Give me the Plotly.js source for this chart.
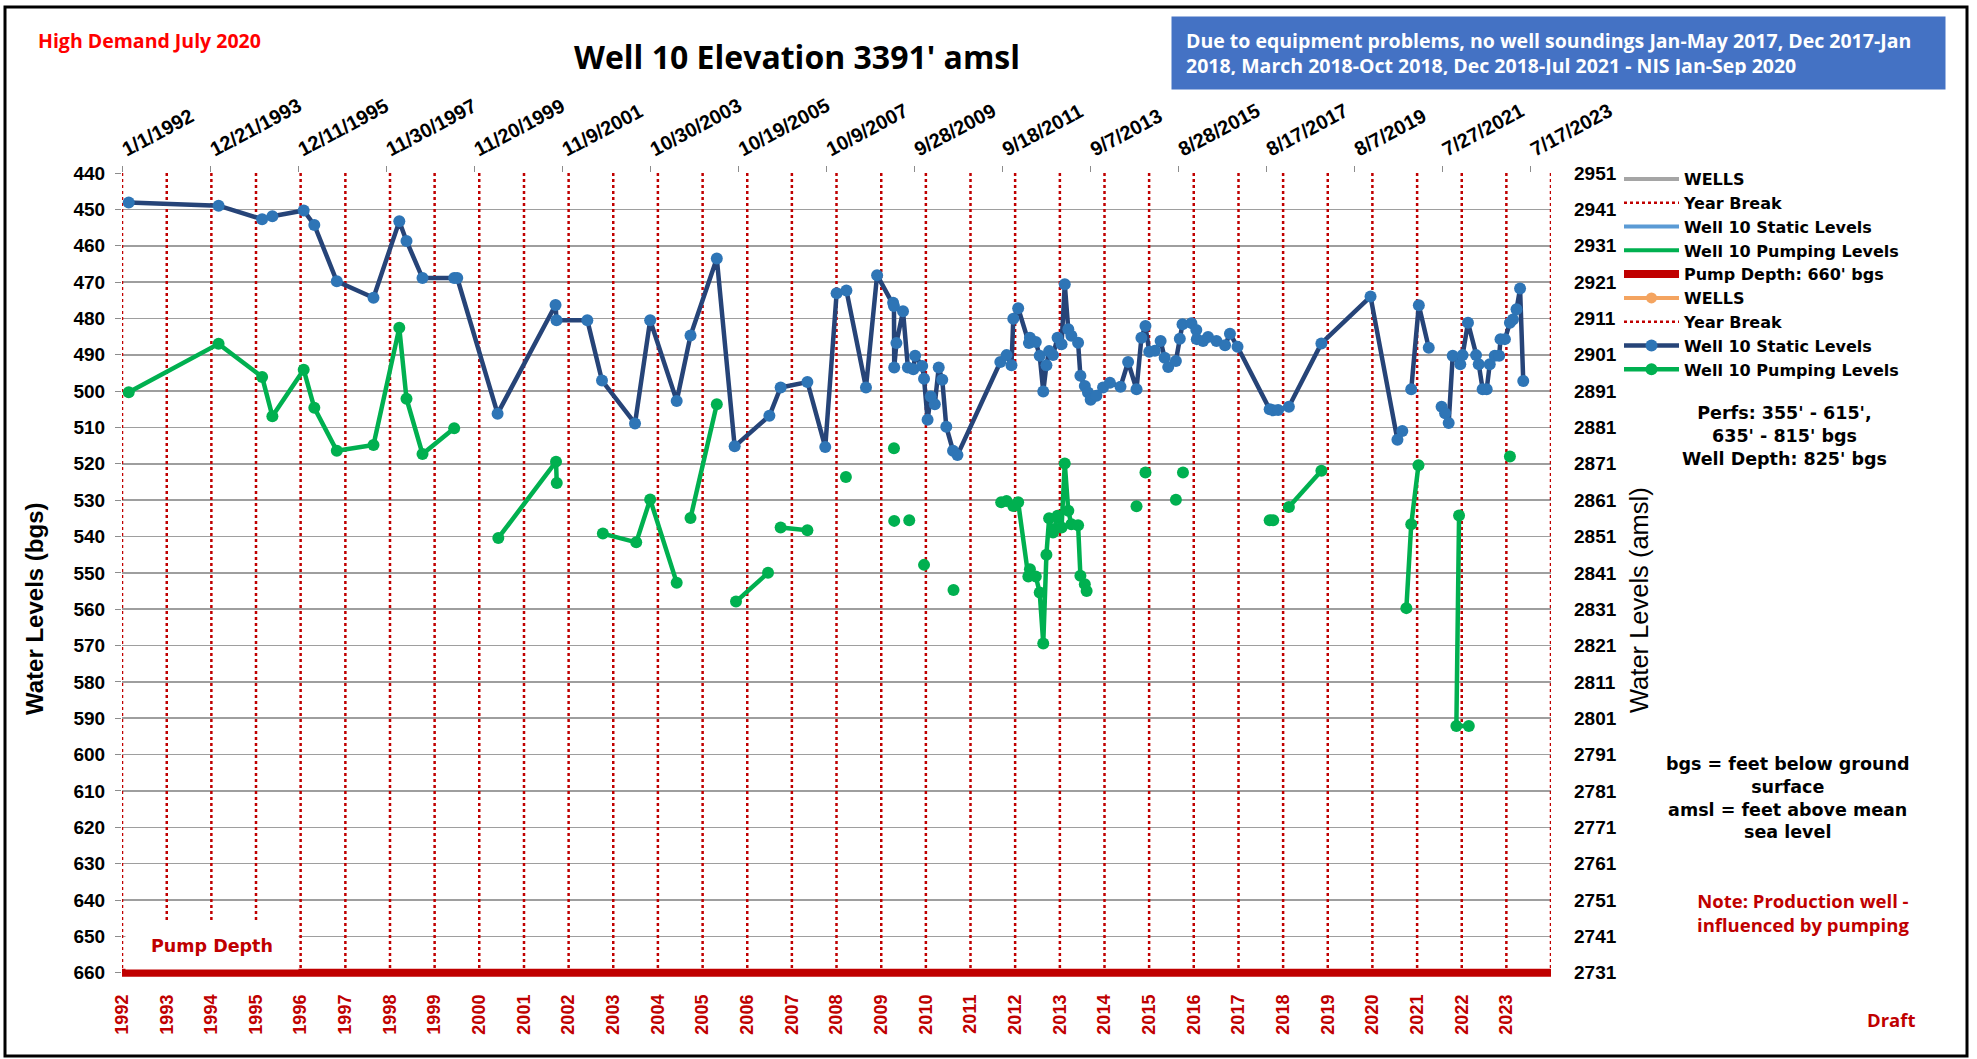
<!DOCTYPE html>
<html><head><meta charset="utf-8">
<script src="https://cdn.plot.ly/plotly-3.0.1.min.js"></script>
<style>html,body{margin:0;padding:0;background:#fff}#chart{width:1977px;height:1059px}</style>
</head><body><div id="chart"></div>
<script>
// ---------------- DATA ----------------
const wellElevation = 3391;      // ft amsl
const pumpDepth = 660;           // ft bgs
const depthTop = 440, depthBottom = 660;

const yearBreakYears = [1992,1993,1994,1995,1996,1997,1998,1999,2000,2001,2002,2003,2004,2005,2006,2007,2008,2009,2010,2011,2012,2013,2014,2015,2016,2017,2018,2019,2020,2021,2022,2023,2024];
const bottomYearLabels = ['1992','1993','1994','1995','1996','1997','1998','1999','2000','2001','2002','2003','2004','2005','2006','2007','2008','2009','2010','2011','2012','2013','2014','2015','2016','2017','2018','2019','2020','2021','2022','2023'];
const topTickDates = ['1992-01-01','1993-12-21','1995-12-11','1997-11-30','1999-11-20','2001-11-09','2003-10-30','2005-10-19','2007-10-09','2009-09-28','2011-09-18','2013-09-07','2015-08-28','2017-08-17','2019-08-07','2021-07-27','2023-07-17'];
const topTickText = ['1/1/1992','12/21/1993','12/11/1995','11/30/1997','11/20/1999','11/9/2001','10/30/2003','10/19/2005','10/9/2007','9/28/2009','9/18/2011','9/7/2013','8/28/2015','8/17/2017','8/7/2019','7/27/2021','7/17/2023'];

const staticDates = ['1992-02-25','1994-03-01','1995-02-20','1995-05-15','1996-01-26','1996-04-22','1996-10-23','1997-08-19','1998-03-18','1998-05-16','1998-09-24','1999-06-10','1999-07-05','2000-05-30','2001-09-16','2001-09-24','2002-06-03','2002-10-01','2003-06-28','2003-10-30','2004-06-03','2004-09-24','2005-04-27','2005-09-20','2006-07-01','2006-10-01','2007-05-08','2007-10-01','2008-01-02','2008-03-22','2008-08-29','2008-11-28','2009-04-08','2009-04-15','2009-04-17','2009-05-05','2009-06-28','2009-08-07','2009-09-20','2009-10-05','2009-12-02','2009-12-17','2010-01-15','2010-02-10','2010-03-15','2010-04-16','2010-05-15','2010-06-17','2010-08-11','2010-09-16','2011-09-02','2011-10-23','2011-12-02','2011-12-17','2012-01-26','2012-04-23','2012-05-01','2012-06-18','2012-07-20','2012-08-18','2012-09-13','2012-10-05','2012-11-06','2012-12-13','2013-01-15','2013-02-10','2013-03-11','2013-04-05','2013-05-30','2013-06-18','2013-07-24','2013-08-19','2013-09-10','2013-10-27','2013-12-20','2014-02-14','2014-05-12','2014-07-13','2014-09-20','2014-10-30','2014-12-02','2015-01-02','2015-02-17','2015-04-05','2015-05-08','2015-06-06','2015-08-08','2015-09-09','2015-10-01','2015-12-13','2016-01-22','2016-01-26','2016-03-17','2016-04-27','2016-07-05','2016-09-13','2016-10-23','2016-12-24','2017-09-13','2017-10-12','2017-11-21','2018-02-17','2018-11-10','2019-12-17','2020-07-24','2020-09-02',null,'2020-11-14','2021-01-15','2021-04-06',null,'2021-07-20','2021-08-18','2021-09-16','2021-10-19','2021-12-20','2022-01-08','2022-02-21','2022-04-28','2022-05-20','2022-06-21','2022-07-24','2022-08-18','2022-09-28','2022-11-03','2022-11-14','2022-12-20','2023-01-30','2023-02-24','2023-03-25','2023-04-23','2023-05-19'];
const staticLevels = [448.1,449.0,452.7,451.9,450.3,454.3,469.8,474.3,453.3,458.7,468.9,468.9,468.9,506.2,476.3,480.5,480.5,497.1,508.9,480.5,502.7,484.7,463.5,515.2,506.8,499.0,497.5,515.4,473.1,472.3,499.0,468.1,475.7,476.6,493.5,486.8,478.0,493.5,494.0,490.3,493.1,496.6,507.9,501.5,503.6,493.5,496.9,509.8,516.4,517.6,492.0,490.1,492.9,480.1,477.2,486.8,485.3,486.5,490.3,500.1,492.9,489.0,490.1,485.3,487.1,470.6,483.0,484.8,486.7,495.8,498.6,500.4,502.4,501.3,499.0,497.7,498.8,492.0,499.5,485.3,482.1,489.2,488.9,486.2,490.8,493.4,491.7,485.6,481.6,481.3,483.2,485.7,486.2,485.1,486.2,487.4,484.2,487.8,505.0,505.3,505.2,504.3,486.9,474.0,513.4,511.0,null,499.5,476.4,488.1,null,504.3,506.1,508.8,490.3,492.6,490.1,481.2,490.1,492.6,499.5,499.5,492.6,490.3,490.3,485.7,485.7,481.2,480.3,477.5,471.8,497.2];

const pumpingDates = ['1992-02-25','1994-03-01','1995-02-20','1995-05-15','1996-01-26','1996-04-22','1996-10-23','1997-08-19','1998-03-18','1998-05-16','1998-09-24','1999-06-10',null,'2000-06-05','2001-09-20','2001-09-26',null,'2002-10-08','2003-07-08','2003-10-30','2004-06-03',null,'2004-09-24','2005-04-27',null,'2005-10-01','2006-06-20',null,'2006-10-01','2007-05-08',null,'2008-03-18',null,'2009-04-15',null,'2009-04-17',null,'2009-08-18',null,'2009-12-17',null,'2010-08-15',null,'2011-09-09','2011-10-23','2011-12-17','2012-01-26','2012-04-18','2012-05-01','2012-06-18','2012-07-20','2012-08-18','2012-09-13','2012-10-05','2012-11-06','2012-12-13','2013-01-15','2013-02-10','2013-03-11','2013-04-05','2013-05-30','2013-06-18','2013-07-24','2013-08-08',null,'2014-09-20',null,'2014-12-02',null,'2015-08-08',null,'2015-10-05',null,'2017-09-13','2017-10-12',null,'2018-02-17','2018-11-10',null,'2020-10-05','2020-11-14','2021-01-12',null,'2021-12-10','2021-11-18','2022-02-28',null,'2023-01-30'];
const pumpingLevels = [500.3,487.0,496.1,506.9,494.1,504.6,516.4,514.8,482.6,502.1,517.3,510.2,null,540.4,519.4,525.3,null,539.2,541.6,529.8,552.7,null,534.9,503.6,null,557.9,550.0,null,537.5,538.3,null,523.6,null,515.7,null,535.7,null,535.5,null,547.8,null,554.7,null,530.6,530.2,531.6,530.6,551.0,549.0,551.0,555.4,569.4,545.0,535.0,538.9,534.3,537.5,519.9,532.9,536.6,536.9,550.8,553.1,555.0,null,531.7,null,522.4,null,529.9,null,522.4,null,535.5,535.5,null,531.9,521.9,null,559.7,536.6,520.4,null,534.2,592.1,592.1,null,518.0];

// ---------------- LAYOUT HELPERS ----------------
const W = 1977, H = 1059, ML = 122, MR = 426, MT = 173, MB = 79;
const PW = W - ML - MR, PH = H - MT - MB;
const px = x => (x - ML) / PW;
const py = y => 1 - (y - MT) / PH;
const ARIAL = 'Liberation Sans, Arial, sans-serif';
const CALIBRI = 'Open Sans, Carlito, sans-serif';
const HEAVY = 'DejaVu Sans, Arial Black, sans-serif';
const DARKRED = '#C00000';

const yearX = [], yearY = [];
yearBreakYears.forEach(y => { yearX.push(y + '-01-01', y + '-01-01', null); yearY.push(depthTop, depthBottom, null); });
const xStart = yearBreakYears[0] + '-01-01';
const xEnd = yearBreakYears[yearBreakYears.length - 1] + '-01-01';
const bottomTickVals = bottomYearLabels.map(y => y + '-01-01');

const traces = [
  {name: 'WELLS', x: [null], y: [null], xaxis: 'x2', yaxis: 'y2', mode: 'lines', line: {color: '#A5A5A5', width: 4}, legendrank: 1},
  {name: 'Year Break', x: [null], y: [null], mode: 'lines', line: {color: DARKRED, width: 2.5, dash: 'dot'}, legendrank: 2},
  {name: 'Well 10 Static Levels', x: [null], y: [null], mode: 'lines', line: {color: '#5B9BD5', width: 4}, legendrank: 3},
  {name: 'Well 10 Pumping Levels', x: [null], y: [null], mode: 'lines', line: {color: '#00B050', width: 4}, legendrank: 4},
  {name: 'Year Break', x: yearX, y: yearY, mode: 'lines', line: {color: DARKRED, width: 2.5, dash: 'dot'}, legendrank: 7},
  {name: "Pump Depth: 660' bgs", x: [xStart, xEnd], y: [pumpDepth, pumpDepth], mode: 'lines', line: {color: DARKRED, width: 8}, legendrank: 5},
  {name: 'WELLS', x: [null], y: [null], mode: 'lines+markers', line: {color: '#F4A460', width: 4}, marker: {color: '#F4A460', size: 11}, legendrank: 6},
  {name: 'Well 10 Static Levels', x: staticDates, y: staticLevels, mode: 'lines+markers', connectgaps: false,
   line: {color: '#264478', width: 4.5}, marker: {color: '#2E75B6', size: 12}, cliponaxis: false, legendrank: 8},
  {name: 'Well 10 Pumping Levels', x: pumpingDates, y: pumpingLevels, mode: 'lines+markers', connectgaps: false,
   line: {color: '#00B050', width: 4.5}, marker: {color: '#00B050', size: 12}, cliponaxis: false, legendrank: 9}
];

const tickFont = {family: ARIAL, size: 19, color: '#000', weight: 'bold'};

const layout = {
  width: W, height: H,
  margin: {l: ML, r: MR, t: MT, b: MB, pad: 0},
  paper_bgcolor: '#fff', plot_bgcolor: '#fff',
  showlegend: true, hovermode: false,
  font: {family: ARIAL, color: '#000'},
  xaxis: {type: 'date', range: [xStart, xEnd], tickmode: 'array', tickvals: bottomTickVals, ticktext: bottomYearLabels,
          tickangle: -90, ticks: '', showgrid: false, zeroline: false, showline: false, ticklabelstandoff: 10,
          tickfont: {family: ARIAL, size: 18, color: DARKRED, weight: 'bold'}},
  xaxis2: {type: 'date', overlaying: 'x', side: 'top', anchor: 'y', range: [xStart, xEnd], tickmode: 'array',
           tickvals: topTickDates, ticktext: topTickText, tickangle: -28, ticks: 'outside', ticklen: 6,
           tickcolor: '#8C8C8C', showgrid: false, zeroline: false, showline: false, ticklabelstandoff: 0,
           tickfont: {family: ARIAL, size: 20, color: '#000', weight: 'bold'}},
  yaxis: {range: [depthBottom + 2, depthTop], tick0: depthTop, dtick: 10, ticks: 'outside', ticklen: 6, tickcolor: '#8C8C8C',
          gridcolor: '#9E9E9E', gridwidth: 1.6, zeroline: false, showline: false, ticklabelstandoff: 6, tickfont: tickFont},
  yaxis2: {overlaying: 'y', side: 'right', anchor: 'x', range: [wellElevation - depthBottom - 2, wellElevation - depthTop],
           tick0: wellElevation - depthBottom, dtick: 10, ticks: '', showgrid: false, zeroline: false, showline: false,
           ticklabelstandoff: 22, tickfont: tickFont},
  legend: {x: px(1619), xanchor: 'left', y: py(162), yanchor: 'top', traceorder: 'normal', itemwidth: 55, tracegroupgap: 0,
           bgcolor: 'rgba(0,0,0,0)', font: {family: 'DejaVu Sans, Liberation Sans, sans-serif', size: 16, color: '#000', weight: 'bold'}},
  shapes: [
    {type: 'rect', xref: 'paper', yref: 'paper', x0: px(5), x1: px(1967), y0: py(1056), y1: py(7), line: {color: '#000', width: 3}, layer: 'above'}
  ],
  annotations: [
    {xref: 'paper', yref: 'paper', x: px(36), y: py(40), xanchor: 'left', yanchor: 'middle', showarrow: false,
     text: 'High Demand July 2020', font: {family: CALIBRI, size: 19.5, color: '#FF0000', weight: 'bold'}},
    {xref: 'paper', yref: 'paper', x: px(797), y: py(57), xanchor: 'center', yanchor: 'middle', showarrow: false,
     text: "Well 10 Elevation 3391' amsl", font: {family: CALIBRI, size: 32, color: '#000', weight: 'bold'}},
    {xref: 'paper', yref: 'paper', x: px(1171), y: py(16), xanchor: 'left', yanchor: 'top', showarrow: false,
     width: 745, height: 44, borderpad: 14, bgcolor: '#4472C4', align: 'left', valign: 'middle',
     text: 'Due to equipment problems, no well soundings Jan-May 2017, Dec 2017-Jan<br>2018, March 2018-Oct 2018, Dec 2018-Jul 2021 - NIS Jan-Sep 2020',
     font: {family: CALIBRI, size: 19.5, color: '#fff', weight: 'bold'}},
    {xref: 'paper', yref: 'paper', x: px(34), y: py(609), xanchor: 'center', yanchor: 'middle', textangle: -90, showarrow: false,
     text: 'Water Levels (bgs)', font: {family: ARIAL, size: 24, color: '#000', weight: 'bold'}},
    {xref: 'paper', yref: 'paper', x: px(1639), y: py(600), xanchor: 'center', yanchor: 'middle', textangle: -90, showarrow: false,
     text: 'Water Levels (amsl)', font: {family: ARIAL, size: 25.5, color: '#000'}},
    {xref: 'paper', yref: 'paper', x: px(1784), y: py(436), xanchor: 'center', yanchor: 'middle', showarrow: false, align: 'center',
     text: "Perfs: 355' - 615',<br>635' - 815' bgs<br>Well Depth: 825' bgs", font: {family: HEAVY, size: 17.5, color: '#000', weight: 'bold'}},
    {xref: 'paper', yref: 'paper', x: px(1787), y: py(798), xanchor: 'center', yanchor: 'middle', showarrow: false, align: 'center',
     text: 'bgs = feet below ground<br>surface<br>amsl = feet above mean<br>sea level', font: {family: HEAVY, size: 17.5, color: '#000', weight: 'bold'}},
    {xref: 'paper', yref: 'paper', x: px(1803), y: py(912), xanchor: 'center', yanchor: 'middle', showarrow: false, align: 'center',
     text: 'Note: Production well -<br>influenced by pumping', font: {family: CALIBRI, size: 18.5, color: DARKRED, weight: 'bold'}},
    {xref: 'paper', yref: 'paper', x: px(1891), y: py(1019), xanchor: 'center', yanchor: 'middle', showarrow: false,
     text: 'Draft', font: {family: CALIBRI, size: 18.5, color: DARKRED, weight: 'bold'}},
    {xref: 'x', yref: 'y', x: '1994-01-08', y: 652.4, xanchor: 'center', yanchor: 'middle', showarrow: false,
     width: 172, height: 47, borderpad: 0, bgcolor: '#fff',
     text: 'Pump Depth', font: {family: HEAVY, size: 17.5, color: DARKRED, weight: 'bold'}}
  ]
};

Plotly.newPlot('chart', traces, layout, {displayModeBar: false, staticPlot: true});
</script>
</body></html>
